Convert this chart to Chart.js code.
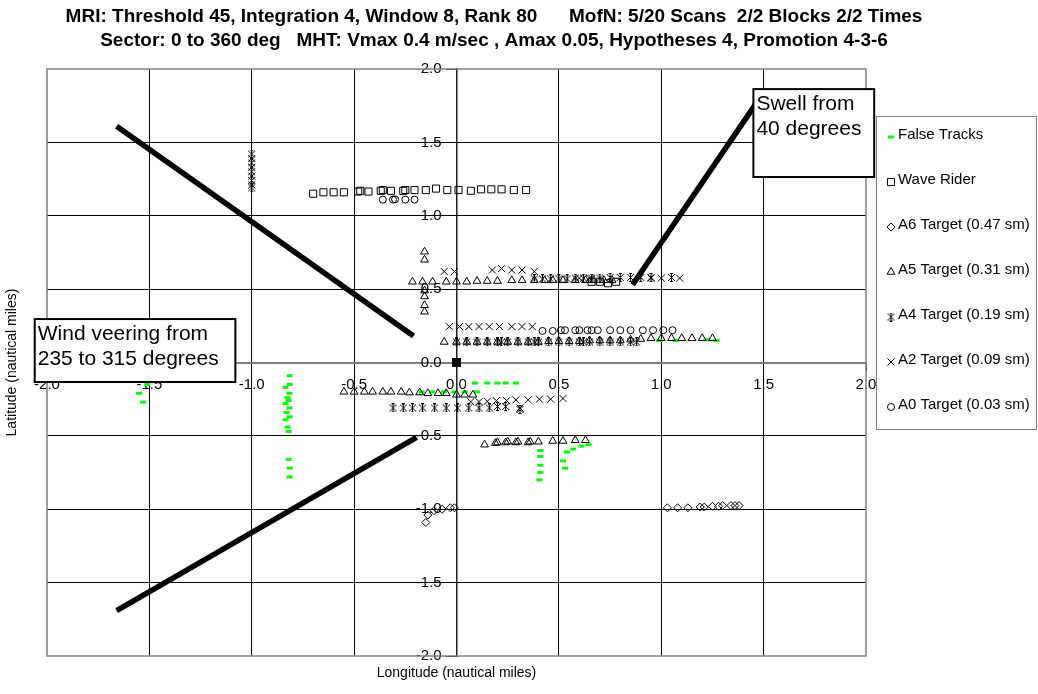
<!DOCTYPE html>
<html><head><meta charset="utf-8">
<script src="https://cdn.jsdelivr.net/npm/chart.js@4/dist/chart.umd.min.js"></script>
<style>html,body{margin:0;padding:0;background:#fff;}canvas{display:block;}</style>
</head><body>
<canvas id="c" width="1038" height="694"></canvas>
<script>
// ---------- text ----------
const titleLines = [
  'MRI: Threshold 45, Integration 4, Window 8, Rank 80      MofN: 5/20 Scans  2/2 Blocks 2/2 Times',
  'Sector: 0 to 360 deg   MHT: Vmax 0.4 m/sec , Amax 0.05, Hypotheses 4, Promotion 4-3-6'
];
const xAxisTitle = 'Longitude (nautical miles)';
const yAxisTitle = 'Latitude (nautical miles)';
const tickValues = [-2, -1.5, -1, -0.5, 0, 0.5, 1, 1.5, 2];
const xTickLabels = ['-2.0','-1.5','-1.0','-0.5','0.0','0.5','1.0','1.5','2.0'];
const yTickLabels = ['-2.0','-1.5','-1.0','-0.5','0.0','0.5','1.0','1.5','2.0'];
const seriesNames = ['False Tracks','Wave Rider','A6 Target (0.47 sm)','A5 Target (0.31 sm)','A4 Target (0.19 sm)','A2 Target (0.09 sm)','A0 Target (0.03 sm)'];
const windText = ['Wind veering from', '235 to 315 degrees'];
const swellText = ['Swell from', '40 degrees'];

// ---------- data ----------
const falseX = [-1.51,-1.55,-1.53, -0.815,-0.815,-0.835,-0.815,-0.825,-0.82,-0.835,-0.815,-0.83,-0.815,-0.835,-0.825,-0.82,-0.82,-0.815,-0.815, 0.09,0.15,0.20,0.24,0.29, -0.17,-0.12,-0.06,-0.01,0.04,0.10, 0.41,0.41,0.41,0.41,0.405, 0.52,0.53,0.54,0.57,0.61,0.645, 0.99,1.07,1.22,1.27];
const falseY = [-0.15,-0.21,-0.27, -0.09,-0.15,-0.17,-0.21,-0.24,-0.26,-0.28,-0.31,-0.34,-0.37,-0.39,-0.44,-0.47,-0.66,-0.72,-0.78, -0.14,-0.14,-0.14,-0.14,-0.14, -0.2,-0.2,-0.2,-0.2,-0.2,-0.2, -0.6,-0.64,-0.70,-0.75,-0.80, -0.67,-0.72,-0.61,-0.59,-0.57,-0.56, 0.15,0.15,0.155,0.15];

const waveX = [-0.70,-0.65,-0.60,-0.55,-0.48,-0.47,-0.43,-0.37,-0.36,-0.32,-0.26,-0.25,-0.205,-0.15,-0.10,-0.045,0.01,0.07,0.12,0.17,0.22,0.28,0.34, 0.66,0.70,0.74,0.78];
const waveY = [1.15,1.16,1.16,1.16,1.165,1.17,1.165,1.17,1.175,1.17,1.17,1.175,1.175,1.175,1.185,1.175,1.175,1.17,1.18,1.18,1.18,1.175,1.175, 0.55,0.55,0.54,0.55];

const sensorX = [0];
const sensorY = [0];

const a6X = [-0.15,-0.14,-0.11,-0.07,-0.03,-0.01, 1.03,1.08,1.13,1.19,1.21,1.25,1.28,1.30,1.34,1.36,1.38];
const a6Y = [-1.09,-1.04,-1.01,-1.0,-0.99,-0.99, -0.99,-0.99,-0.99,-0.985,-0.985,-0.98,-0.98,-0.975,-0.975,-0.975,-0.975];

const a5X = [-0.156,-0.156,-0.156,-0.156,-0.156,-0.156, -0.215,-0.166,-0.117,
  -0.05,0.0,0.05,0.10,0.15,0.20,0.27,0.32,0.38,0.43,0.47,0.52,0.58,0.63,0.67,0.72,0.76,
  -0.06,0.0,0.05,0.10,0.15,0.20,0.25,0.30,0.35,0.40,0.45,0.50,0.55,0.60,0.65,0.70,0.75,0.80,0.85,0.90,0.95,1.0,1.05,1.10,1.15,1.20,1.25,
  -0.55,-0.50,-0.45,-0.41,-0.36,-0.32,-0.27,-0.23,-0.18,-0.14,-0.09,-0.05,0.0,0.04,0.08,
  0.137,0.19,0.20,0.24,0.25,0.29,0.30,0.35,0.36,0.40,0.47,0.52,0.58,0.63];
const a5Y = [0.755,0.70,0.49,0.45,0.39,0.346, 0.55,0.55,0.55,
  0.55,0.55,0.55,0.555,0.555,0.555,0.56,0.56,0.56,0.56,0.56,0.56,0.56,0.56,0.56,0.56,0.56,
  0.14,0.14,0.14,0.14,0.14,0.14,0.14,0.14,0.14,0.14,0.145,0.145,0.145,0.145,0.15,0.15,0.15,0.15,0.155,0.16,0.165,0.165,0.165,0.165,0.165,0.165,0.165,
  -0.20,-0.20,-0.20,-0.20,-0.20,-0.20,-0.20,-0.205,-0.205,-0.21,-0.21,-0.21,-0.22,-0.22,-0.22,
  -0.56,-0.55,-0.545,-0.545,-0.54,-0.545,-0.54,-0.545,-0.54,-0.54,-0.535,-0.535,-0.53,-0.53];

const a4X = [-1.0,-1.0,-1.0,-1.0,-1.0,
  0.38,0.42,0.46,0.50,0.54,0.58,0.62,0.66,0.70,0.75,0.80,0.85,0.90,0.95,1.05,
  0.0,0.05,0.10,0.15,0.20,0.22,0.25,0.30,0.35,0.38,0.40,0.45,0.50,0.55,0.60,0.62,0.65,0.70,0.75,0.80,0.85,0.88,
  -0.31,-0.26,-0.215,-0.166,-0.107,-0.05,0.005,0.06,0.11,0.16,0.20,0.24,0.31];
const a4Y = [1.42,1.36,1.30,1.24,1.19,
  0.57,0.57,0.57,0.57,0.57,0.575,0.575,0.575,0.575,0.58,0.58,0.58,0.58,0.58,0.58,
  0.14,0.14,0.14,0.14,0.14,0.14,0.14,0.14,0.14,0.14,0.14,0.14,0.14,0.14,0.14,0.14,0.14,0.14,0.14,0.14,0.14,0.14,
  -0.31,-0.31,-0.31,-0.31,-0.31,-0.31,-0.31,-0.31,-0.31,-0.31,-0.30,-0.30,-0.32];

const a2X = [-1.0,-1.0,-1.0,-1.0,
  -0.06,-0.01,0.175,0.22,0.27,0.32,0.38,
  0.60,0.65,0.95,1.0,1.09,
  -0.035,0.015,0.06,0.11,0.16,0.21,0.27,0.32,0.37,
  0.07,0.11,0.15,0.195,0.245,0.29,0.35,0.405,0.46,0.52,0.31];
const a2Y = [1.39,1.33,1.27,1.21,
  0.62,0.62,0.63,0.64,0.63,0.63,0.62,
  0.575,0.575,0.575,0.575,0.575,
  0.245,0.245,0.245,0.245,0.245,0.245,0.245,0.245,0.245,
  -0.267,-0.267,-0.265,-0.26,-0.26,-0.255,-0.255,-0.25,-0.25,-0.245,-0.31];

const a0X = [-0.36,-0.31,-0.30,-0.25,-0.205,
  0.42,0.47,0.51,0.53,0.58,0.60,0.64,0.66,0.69,0.75,0.80,0.85,0.91,0.96,1.01,1.055];
const a0Y = [1.11,1.11,1.112,1.11,1.11,
  0.215,0.215,0.22,0.22,0.22,0.22,0.22,0.22,0.22,0.22,0.22,0.22,0.22,0.22,0.22,0.22];

// thick annotation lines (data coordinates)
const windUpperX = [-1.66, -0.21];
const windUpperY = [1.61, 0.18];
const windLowerX = [-1.66, -0.195];
const windLowerY = [-1.69, -0.51];
const swellLineX = [0.86, 1.49];
const swellLineY = [0.53, 1.82];

// text box corners (data coordinates)
const windBoxX = [-2.06, -1.08];
const windBoxY = [0.296, -0.133];
const swellBoxX = [1.45, 2.04];
const swellBoxY = [1.863, 1.264];

// ---------- styles ----------
const starImg = (() => {
  const c = document.createElement('canvas'); c.width = 9; c.height = 9;
  const g = c.getContext('2d'); g.strokeStyle = '#000'; g.lineWidth = 1;
  g.beginPath();
  g.moveTo(1, 1); g.lineTo(8, 8); g.moveTo(8, 1); g.lineTo(1, 8);
  g.moveTo(4.5, 0.5); g.lineTo(4.5, 8.5);
  g.moveTo(3, 0.5); g.lineTo(6, 0.5); g.moveTo(3, 8.5); g.lineTo(6, 8.5);
  g.stroke();
  return c;
})();

const styles = [
  {style: 'line', r: 3, bw: 3, color: '#00FF00', fill: 'transparent'},
  {style: 'rect', r: 5, bw: 1, color: '#000', fill: 'transparent'},
  {style: 'rectRot', r: 4, bw: 1, color: '#000', fill: 'transparent'},
  {style: 'triangle', r: 4.5, bw: 1, color: '#000', fill: 'transparent'},
  {style: starImg, r: 5, bw: 1, color: '#000', fill: 'transparent'},
  {style: 'crossRot', r: 5, bw: 1, color: '#000', fill: 'transparent'},
  {style: 'circle', r: 3.5, bw: 1, color: '#000', fill: 'transparent'}
];

const pts = (xs, ys) => xs.map((x, i) => ({x: x, y: ys[i]}));
const seriesData = [pts(falseX, falseY), pts(waveX, waveY), pts(a6X, a6Y), pts(a5X, a5Y), pts(a4X, a4Y), pts(a2X, a2Y), pts(a0X, a0Y)];

const datasets = seriesNames.map((name, i) => ({
  label: name,
  data: seriesData[i],
  pointStyle: styles[i].style,
  pointRadius: styles[i].r,
  pointHoverRadius: styles[i].r,
  pointBorderWidth: styles[i].bw,
  pointBorderColor: styles[i].color,
  pointBackgroundColor: styles[i].fill,
  showLine: false,
  order: 10 - i
}));
datasets.push({label: 'Sensor', data: pts(sensorX, sensorY), pointStyle: 'rect', pointRadius: 6.4, pointBorderWidth: 0, pointBackgroundColor: '#000', pointBorderColor: '#000', showLine: false, order: 1});
[[windUpperX, windUpperY], [windLowerX, windLowerY], [swellLineX, swellLineY]].forEach(([xs, ys], k) => {
  datasets.push({label: 'line' + k, data: pts(xs, ys), showLine: true, borderColor: '#000', borderWidth: 5.5, pointRadius: 0, pointHoverRadius: 0, fill: false, order: 0, borderCapStyle: 'butt'});
});

function drawMarker(ctx, st, x, y) {
  ctx.save();
  ctx.lineWidth = st.bw; ctx.strokeStyle = st.color; ctx.fillStyle = st.fill;
  const r = st.r;
  ctx.beginPath();
  if (typeof st.style !== 'string') {
    ctx.drawImage(st.style, x - st.style.width / 2, y - st.style.height / 2);
  } else if (st.style === 'line') {
    ctx.moveTo(x - r, y); ctx.lineTo(x + r, y); ctx.stroke();
  } else if (st.style === 'rect') {
    const s = Math.SQRT1_2 * r; ctx.rect(x - s, y - s, 2 * s, 2 * s); ctx.stroke();
  } else if (st.style === 'rectRot') {
    ctx.moveTo(x - r, y); ctx.lineTo(x, y - r); ctx.lineTo(x + r, y); ctx.lineTo(x, y + r); ctx.closePath(); ctx.stroke();
  } else if (st.style === 'triangle') {
    for (let k = 0; k < 3; k++) {
      const a = k * 2 * Math.PI / 3;
      const px = x + Math.sin(a) * r, py = y - Math.cos(a) * r;
      if (k === 0) ctx.moveTo(px, py); else ctx.lineTo(px, py);
    }
    ctx.closePath(); ctx.stroke();
  } else if (st.style === 'crossRot') {
    const d = Math.SQRT1_2 * r;
    ctx.moveTo(x - d, y - d); ctx.lineTo(x + d, y + d); ctx.moveTo(x + d, y - d); ctx.lineTo(x - d, y + d); ctx.stroke();
  } else if (st.style === 'circle') {
    ctx.arc(x, y, r, 0, 2 * Math.PI); ctx.stroke();
  }
  ctx.restore();
}

function textBox(chart, bx, by, lines) {
  const {ctx, scales} = chart;
  const x0 = scales.x.getPixelForValue(bx[0]), x1 = scales.x.getPixelForValue(bx[1]);
  const y0 = scales.y.getPixelForValue(by[0]), y1 = scales.y.getPixelForValue(by[1]);
  ctx.save();
  ctx.fillStyle = '#fff'; ctx.fillRect(x0, y0, x1 - x0, y1 - y0);
  ctx.strokeStyle = '#000'; ctx.lineWidth = 2; ctx.strokeRect(x0, y0, x1 - x0, y1 - y0);
  ctx.fillStyle = '#000'; ctx.font = "21px 'Liberation Sans', Arial, sans-serif";
  ctx.textBaseline = 'middle'; ctx.textAlign = 'left';
  lines.forEach((t, i) => ctx.fillText(t, x0 + 3, y0 + 15 + i * 25));
  ctx.restore();
}

const decor = {
  id: 'decor',
  beforeDatasetsDraw(chart) {
    const {ctx, chartArea: a} = chart;
    ctx.save(); ctx.strokeStyle = '#808080'; ctx.lineWidth = 1.5;
    ctx.strokeRect(a.left, a.top, a.right - a.left, a.bottom - a.top);
    ctx.restore();
  },
  afterDraw(chart) {
    const ctx = chart.ctx;
    ctx.save();
    ctx.fillStyle = '#fff'; ctx.fillRect(876, 116, 161, 314);
    ctx.strokeStyle = '#808080'; ctx.lineWidth = 1; ctx.strokeRect(876.5, 116.5, 160, 313);
    ctx.font = "15px 'Liberation Sans', Arial, sans-serif"; ctx.fillStyle = '#000';
    ctx.textBaseline = 'middle'; ctx.textAlign = 'left';
    seriesNames.forEach((name, i) => {
      const y = 135 + i * 45;
      drawMarker(ctx, styles[i], 891, y + 2);
      ctx.fillText(name, 898, y);
    });
    ctx.restore();
    textBox(chart, windBoxX, windBoxY, windText);
    textBox(chart, swellBoxX, swellBoxY, swellText);
  }
};

const gridColor = (c) => {
  const v = c.tick && c.tick.value;
  if (v === 0 || v === -2 || v === 2) return 'rgba(0,0,0,0)';
  return '#000';
};
const labelFor = (labels, pad) => (v) => {
  const i = tickValues.findIndex(t => Math.abs(t - v) < 1e-9);
  return i >= 0 ? labels[i] + pad : '';
};

Chart.defaults.font.family = "'Liberation Sans', Arial, sans-serif";
Chart.defaults.color = '#000';

new Chart(document.getElementById('c'), {
  type: 'scatter',
  data: {datasets: datasets},
  options: {
    responsive: false,
    animation: false,
    devicePixelRatio: 1,
    layout: {padding: {left: 0, right: 50, top: 0, bottom: 0}},
    plugins: {
      legend: {display: false},
      tooltip: {enabled: false},
      title: {
        display: true,
        text: titleLines,
        font: {size: 19, weight: 'bold', lineHeight: 24 / 19},
        color: '#000',
        padding: {top: 5, bottom: 16}
      }
    },
    scales: {
      x: {
        type: 'linear', min: -2, max: 2,
        position: {y: 0},
        ticks: {stepSize: 0.5, autoSkip: false, maxRotation: 0, padding: 6, font: {size: 15}, color: '#000', callback: labelFor(xTickLabels, '')},
        grid: {color: gridColor, tickColor: '#000', lineWidth: 1, tickLength: 7},
        border: {display: true, color: '#808080', width: 2}
      },
      y: {
        type: 'linear', min: -2, max: 2,
        position: {x: 0},
        ticks: {stepSize: 0.5, autoSkip: false, padding: 4, font: {size: 15}, color: '#000', callback: labelFor(yTickLabels, '\u2002\u2002')},
        grid: {color: gridColor, tickColor: '#000', lineWidth: 1, tickLength: 10},
        border: {display: true, color: '#202020', width: 1.5}
      },
      xb: {
        type: 'linear', axis: 'x', position: 'bottom', min: 0, max: 1, display: true,
        ticks: {display: false}, grid: {display: false}, border: {display: false},
        title: {display: true, text: xAxisTitle, font: {size: 14}, color: '#000', padding: {top: 12, bottom: 12}},
        afterFit: (s) => { s.height = 38; }
      },
      yl: {
        type: 'linear', axis: 'y', position: 'left', min: 0, max: 1, display: true,
        ticks: {display: false}, grid: {display: false}, border: {display: false},
        title: {display: true, text: yAxisTitle, font: {size: 14}, color: '#000', padding: {top: 4, bottom: 4}},
        afterFit: (s) => { s.width = 47; }
      },
      yr: {
        type: 'linear', axis: 'y', position: 'right', min: 0, max: 1, display: true,
        ticks: {display: false}, grid: {display: false}, border: {display: false},
        afterFit: (s) => { s.width = 122; }
      }
    }
  },
  plugins: [decor]
});
</script>
</body></html>
